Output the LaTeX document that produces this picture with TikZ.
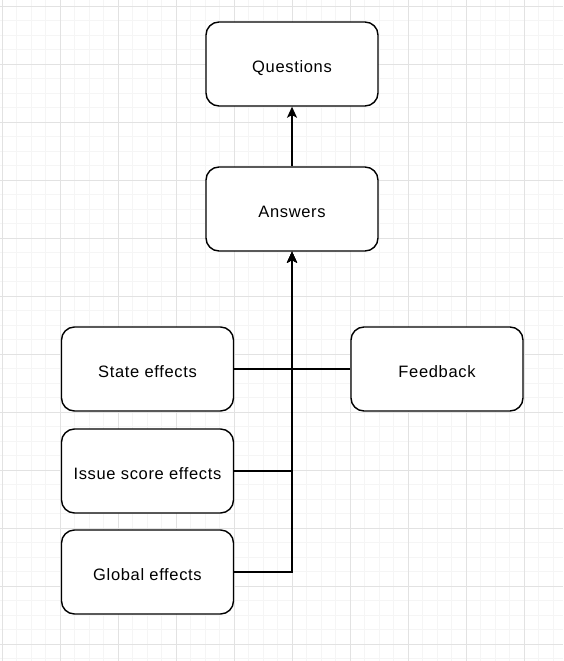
\documentclass[tikz,border=0pt]{standalone}
\usepackage{fontspec}
\setmainfont{Liberation Sans}[LetterSpace=4]
\usetikzlibrary{arrows.meta,positioning}
\definecolor{gridminor}{RGB}{245,245,245}
\definecolor{gridmajor}{RGB}{226,226,226}

\begin{document}
\begin{tikzpicture}[x=1pt,y=-1pt,
  box/.style={draw,fill=white,line width=1.4pt,rounded corners=13pt,minimum width=172pt,minimum height=84pt,inner sep=0pt,text height=16pt,text depth=0pt,font=\fontsize{16.5}{19}\selectfont},
  link/.style={line width=1.4pt,-{Stealth[length=11pt,width=10pt,inset=2.5pt]}}]
            \useasboundingbox (0,0) rectangle (563,661);
            \fill[white] (0,0) rectangle (563,661);
            % grid
            \foreach \gx in {2,16.5,...,563} \draw[gridminor,line width=0.7pt] (\gx,0) -- (\gx,661);
            \foreach \gy in {6,20.5,...,661} \draw[gridminor,line width=0.7pt] (0,\gy) -- (563,\gy);
            \foreach \gx in {2,60,...,563} \draw[gridmajor,line width=0.8pt] (\gx,0) -- (\gx,661);
            \foreach \gy in {6,64,...,661} \draw[gridmajor,line width=0.8pt] (0,\gy) -- (563,\gy);

            \node[box] (questions) at (292,64) {Questions};
            \node[box] (answers) at (292,209) {Answers};
            \node[box] (state) at (147.5,369) {State effects};
            \node[box] (feedback) at (437,369) {Feedback};
            \node[box] (issue) at (147.5,471) {Issue score effects};
            \node[box] (global) at (147.5,572) {Global effects};

            \draw[link] (answers) -- (questions);
            \draw[link] (state.east) -| (answers.south);
            \draw[link] (feedback.west) -| (answers.south);
            \draw[link] (issue.east) -| (answers.south);
            \draw[link] (global.east) -| (answers.south);
          \end{tikzpicture}
\end{document}
